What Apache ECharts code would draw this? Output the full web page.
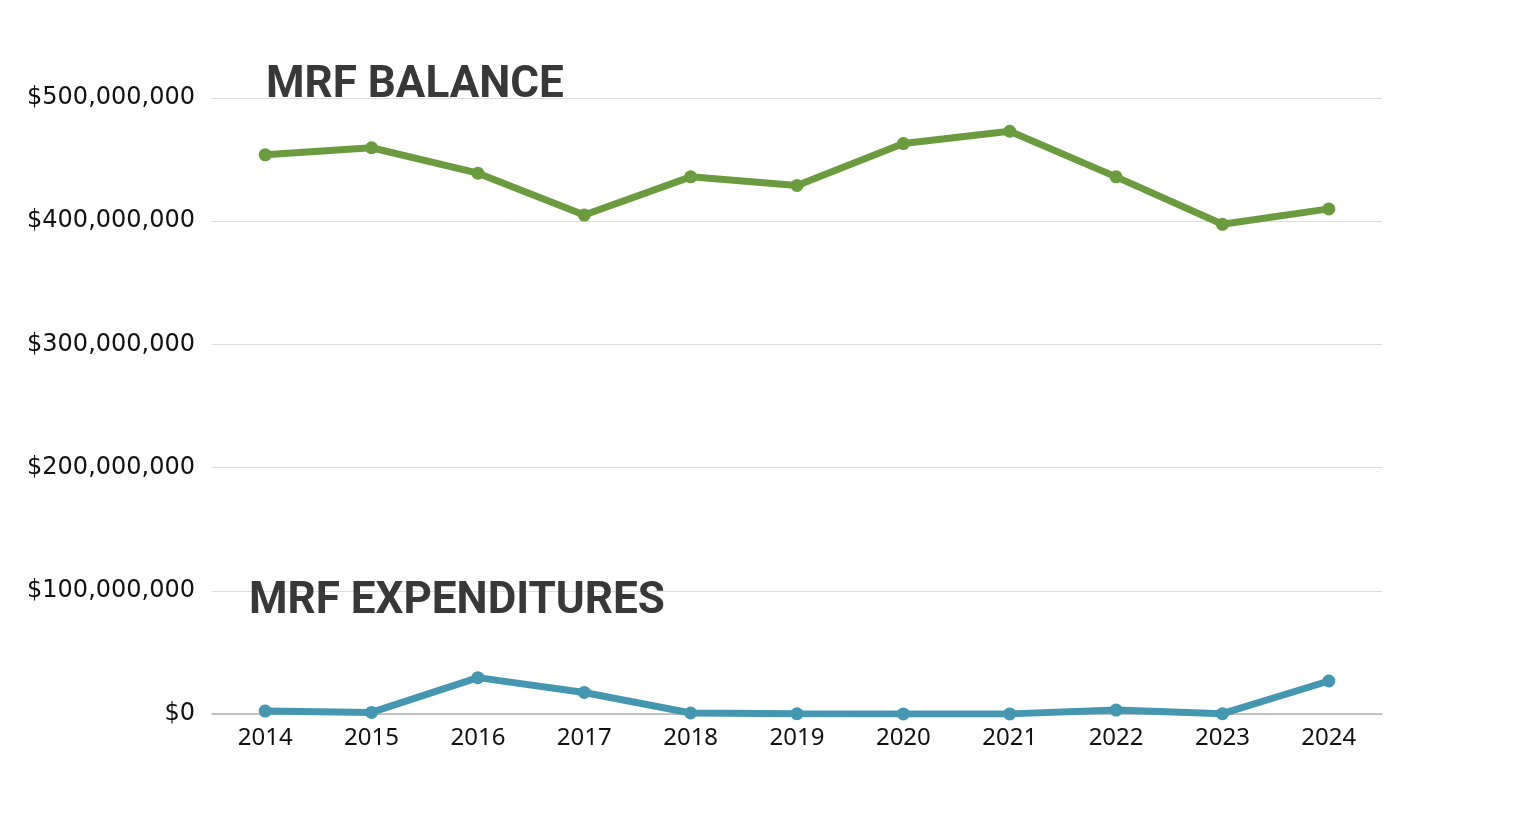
<!DOCTYPE html>
<html>
<head>
<meta charset="utf-8">
<script src="https://cdn.jsdelivr.net/npm/echarts@6/dist/echarts.min.js"></script>
<style>html,body{margin:0;padding:0;background:#fff;}#c{width:1514px;height:816px;}</style>
</head>
<body>
<div id="c"></div>
<script>
const years = ['2014','2015','2016','2017','2018','2019','2020','2021','2022','2023','2024'];
const balance = [453900000, 459600000, 439000000, 405000000, 436000000, 429000000, 463000000, 473000000, 436000000, 397500000, 410000000];
const expenditures = [2400000, 1300000, 29500000, 17500000, 800000, 200000, 100000, 100000, 3200000, 300000, 26800000];
const yTicks = [0, 100000000, 200000000, 300000000, 400000000, 500000000];

const chart = echarts.init(document.getElementById('c'));
chart.setOption({
  backgroundColor: '#ffffff',
  animation: false,
  title: [
    {text: 'MRF BALANCE', left: 261, top: 59, textStyle: {fontFamily: 'Roboto', fontWeight: 'bold', fontSize: 44, color: '#383838'}},
    {text: 'MRF EXPENDITURES', left: 244, top: 575, textStyle: {fontFamily: 'Roboto', fontWeight: 'bold', fontSize: 44, color: '#383838'}}
  ],
  grid: {left: 212, right: 132, top: 98, bottom: 102, containLabel: false},
  xAxis: {
    type: 'category',
    data: years,
    boundaryGap: true,
    axisLine: {lineStyle: {color: '#b3b3b3', width: 1.5}},
    axisTick: {show: false},
    axisLabel: {fontFamily: 'Noto Sans', fontSize: 24, color: '#111', margin: 12}
  },
  yAxis: {
    type: 'value',
    min: yTicks[0],
    max: yTicks[yTicks.length - 1],
    interval: yTicks[1] - yTicks[0],
    axisLine: {show: false},
    axisTick: {show: false},
    splitLine: {lineStyle: {color: '#dcdcdc', width: 1}},
    axisLabel: {
      fontFamily: 'DejaVu Sans', fontSize: 24, color: '#111', margin: 17,
      padding: [7, 0, 0, 0],
      formatter: v => '$' + v.toLocaleString('en-US')
    }
  },
  series: [
    {
      name: 'MRF Balance', type: 'line', data: balance,
      symbol: 'circle', symbolSize: 13,
      lineStyle: {color: '#6a9c3f', width: 7},
      itemStyle: {color: '#6a9c3f'}
    },
    {
      name: 'MRF Expenditures', type: 'line', data: expenditures,
      symbol: 'circle', symbolSize: 13,
      lineStyle: {color: '#4597b1', width: 7},
      itemStyle: {color: '#4597b1'}
    }
  ]
});
</script>
</body>
</html>
